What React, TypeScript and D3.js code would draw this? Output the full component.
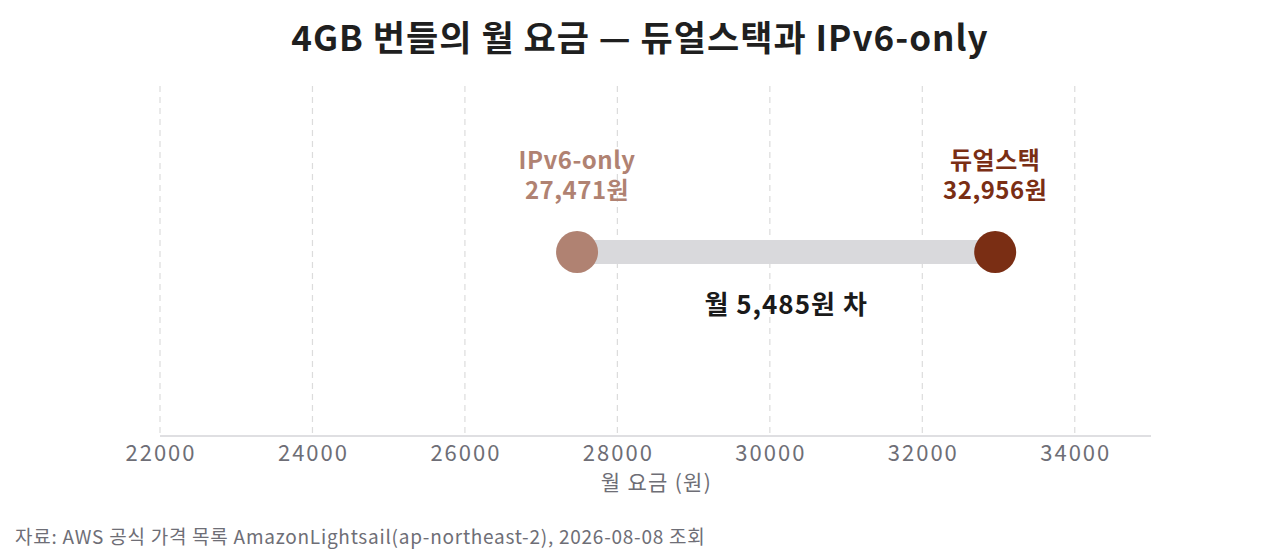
import React from "react";
import * as d3 from "d3";

const title = "4GB 번들의 월 요금 — 듀얼스택과 IPv6-only";
const seriesNames = ["IPv6-only", "듀얼스택"];
const seriesValues = [27471, 32956];
const seriesColors = ["#b08272", "#7a2e14"];
const tickValues = [22000, 24000, 26000, 28000, 30000, 32000, 34000];
const xDomain = [22000, 35000];
const axisTitle = "월 요금 (원)";
const source = "자료: AWS 공식 가격 목록 AmazonLightsail(ap-northeast-2), 2026-08-08 조회";

const W = 1280;
const H = 560;
const FONT = "'Noto Sans CJK KR', 'Noto Sans', sans-serif";

export default function App() {
  const x = d3.scaleLinear().domain(xDomain).range([160, 1151]);
  const top = 86;
  const axisY = 436;
  const rowY = 252;
  const [lo, hi] = seriesValues;
  const diff = hi - lo;
  const fmt = d3.format(",");

  return (
    <svg
      width={W}
      height={H}
      style={{ position: "absolute", left: 0, top: 0, fontFamily: FONT }}
    >
      <rect width={W} height={H} fill="#ffffff" />
      <text
        x={640}
        y={51}
        textAnchor="middle"
        fontSize={35}
        fontWeight={700}
        letterSpacing={1}
        fill="#1f1f1f"
      >
        {title}
      </text>
      {tickValues.map((t) => (
        <line
          key={"g" + t}
          x1={x(t)}
          x2={x(t)}
          y1={top}
          y2={axisY}
          stroke="#dcdcdc"
          strokeWidth={1.2}
          strokeDasharray="6,5"
        />
      ))}
      <line x1={x(xDomain[0])} x2={x(xDomain[1])} y1={axisY} y2={axisY} stroke="#d4d4d8" strokeWidth={1.5} />
      {tickValues.map((t) => (
        <text
          key={"t" + t}
          x={x(t) + 1}
          y={axisY + 25}
          textAnchor="middle"
          fontSize={22}
          letterSpacing={2}
          fill="#6e6e76"
        >
          {t}
        </text>
      ))}
      <text x={x(28500) + 1} y={490} textAnchor="middle" fontSize={21} letterSpacing={1.3} fill="#6e6e76">
        {axisTitle}
      </text>
      <line
        x1={x(lo)}
        x2={x(hi)}
        y1={rowY}
        y2={rowY}
        stroke="#d9d9dc"
        strokeWidth={24}
      />
      {seriesValues.map((v, i) => (
        <g key={"p" + i}>
          <circle cx={x(v)} cy={rowY} r={21} fill={seriesColors[i]} />
          <text
            y={169}
            textAnchor="middle"
            fontSize={24}
            fontWeight={700}
            letterSpacing={0.5}
            fill={seriesColors[i]}
          >
            <tspan x={x(v)}>{seriesNames[i]}</tspan>
            <tspan x={x(v)} dy={30}>{fmt(v) + "원"}</tspan>
          </text>
        </g>
      ))}
      <text
        x={(x(lo) + x(hi)) / 2}
        y={314}
        textAnchor="middle"
        fontSize={26}
        fontWeight={700}
        letterSpacing={1}
        fill="#1a1a1a"
      >
        {"월 " + fmt(diff) + "원 차"}
      </text>
      <text x={15} y={544} fontSize={19} letterSpacing={0.75} fill="#6e6e76">
        {source}
      </text>
    </svg>
  );
}
